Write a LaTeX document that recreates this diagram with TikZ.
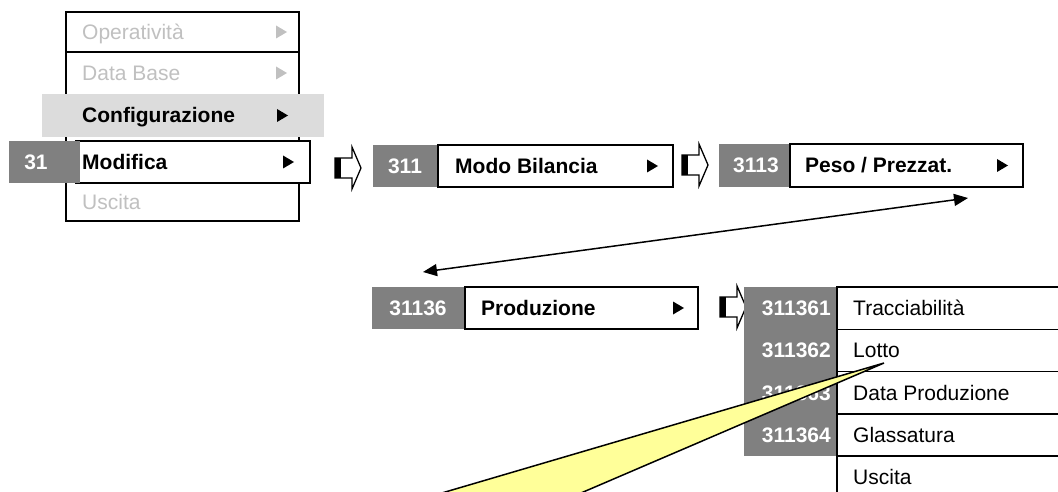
\documentclass[tikz,border=0pt]{standalone}
\usepackage{fontspec}
\setmainfont{Liberation Sans}
\usetikzlibrary{arrows.meta}
\definecolor{numgray}{RGB}{128,128,128}
\definecolor{cfggray}{RGB}{220,220,220}
\definecolor{disgray}{RGB}{192,192,192}
\definecolor{callyellow}{RGB}{255,255,153}
\newcommand{\mytri}[3]{\fill[#3] (#1,#2-6.5) -- (#1+11,#2) -- (#1,#2+6.5) -- cycle;}
\newcommand{\blkarrow}[2]{%
  \filldraw[fill=white,draw=black,line width=1.3pt,line join=miter]
    (#1,#2-10) -- (#1+17,#2-10) -- (#1+17,#2-21) -- (#1+26,#2) -- (#1+17,#2+21) -- (#1+17,#2+10) -- (#1,#2+10) -- cycle;
  \fill[black] (#1,#2-10) rectangle (#1+6,#2+10);}
\tikzset{
  wbox/.style={draw=black,fill=white,line width=1.5pt,inner sep=0pt,outer sep=0pt,anchor=north west},
  gbox/.style={fill=numgray,inner sep=0pt,outer sep=0pt,anchor=north west},
  lbl/.style={anchor=base west,inner sep=0pt,font=\fontsize{21}{25}\selectfont},
  blbl/.style={anchor=base west,inner sep=0pt,font=\fontsize{21}{25}\selectfont\bfseries},
  num/.style={anchor=base,inner sep=0pt,text=white,font=\fontsize{21}{25}\selectfont\bfseries},
  numr/.style={anchor=base east,inner sep=0pt,text=white,font=\fontsize{21}{25}\selectfont\bfseries},
}
\begin{document}
\begin{tikzpicture}[x=1pt,y=-1pt]
\useasboundingbox (0,0) rectangle (1058,492);
\clip (0,0) rectangle (1058,492);
% ---- left menu
\node[wbox,minimum width=233pt,minimum height=209pt] (menu) at (66,12) {};
\draw[line width=1.5pt] (66,52) -- (299,52);
\node[fill=cfggray,inner sep=0pt,outer sep=0pt,anchor=north west,minimum width=282pt,minimum height=43pt] (cfgband) at (42,94) {};
\node[wbox,minimum width=234pt,minimum height=42pt] (modbox) at (76,141) {};
\node[gbox,minimum width=71pt,minimum height=42pt] (n31) at (9,141) {};
\node[lbl,text=disgray] (t1) at (82,39.5) {Operatività};
\node[lbl,text=disgray] (t2) at (82,80.5) {Data Base};
\node[blbl] (t3) at (82,123) {Configurazione};
\node[blbl] (t4) at (82,169.5) {Modifica};
\node[lbl,text=disgray] (t5) at (82,209.5) {Uscita};
\node[num] (l31) at (36,169.5) {31};
\mytri{276}{32}{disgray}
\mytri{276}{73}{disgray}
\mytri{277}{115.5}{black}
\mytri{283}{162}{black}
% ---- arrow 1
\blkarrow{335}{168}
% ---- box 311
\node[gbox,minimum width=65pt,minimum height=42pt] (g311) at (373,145) {};
\node[wbox,minimum width=235pt,minimum height=42pt] (b311) at (438,145) {};
\node[num] (l311) at (405,173.5) {311};
\node[blbl] (t311) at (455,173.5) {Modo Bilancia};
\mytri{647}{166}{black}
% ---- arrow 2
\blkarrow{682}{165}
% ---- box 3113
\node[gbox,minimum width=71pt,minimum height=43pt] (g3113) at (719,144) {};
\node[wbox,minimum width=233pt,minimum height=43pt] (b3113) at (790,144) {};
\node[num] (l3113) at (756,173) {3113};
\node[blbl] (t3113) at (805,173) {Peso / Prezzat.};
\mytri{997}{165.5}{black}
% ---- double arrow
\coordinate (pa) at (968,198);
\coordinate (pb) at (423,272);
\draw[line width=1.5pt,{Triangle[length=14pt,width=12pt]}-{Triangle[length=14pt,width=12pt]}] (pb) -- (pa);
% ---- box 31136
\node[gbox,minimum width=93pt,minimum height=42pt] (g31136) at (372,287) {};
\node[wbox,minimum width=233pt,minimum height=42pt] (b31136) at (465,287) {};
\node[num] (l31136) at (418,315.5) {31136};
\node[blbl] (t31136) at (481,315.5) {Produzione};
\mytri{673}{308}{black}
% ---- arrow 3
\blkarrow{720}{307}
% ---- list
\node[gbox,minimum width=93pt,minimum height=169pt] (gcol) at (744,287) {};
\node[wbox,minimum width=230pt,minimum height=42.25pt] (r1) at (837,287) {};
\node[wbox,minimum width=230pt,minimum height=42.25pt] (r2) at (837,329.25) {};
\node[wbox,minimum width=230pt,minimum height=42.25pt] (r3) at (837,371.5) {};
\node[wbox,minimum width=230pt,minimum height=42.25pt] (r4) at (837,413.75) {};
\node[wbox,minimum width=230pt,minimum height=50pt] (r5) at (837,456) {};
\node[numr] (n1) at (831,315.5) {311361};
\node[numr] (n2) at (831,357.75) {311362};
\node[numr] (n3) at (831,400) {311363};
\node[numr] (n4) at (831,442.25) {311364};
\node[lbl] (s1) at (853,315.5) {Tracciabilità};
\node[lbl] (s2) at (853,357.75) {Lotto};
\node[lbl] (s3) at (853,400) {Data Produzione};
\node[lbl] (s4) at (853,442.25) {Glassatura};
\node[lbl] (s5) at (853,484.5) {Uscita};
% ---- callout
\coordinate (ctip) at (884,363);
\filldraw[fill=callyellow,draw=black,line width=1.5pt,line join=miter] (ctip) -- (350,520) -- (518,520) -- cycle;
\end{tikzpicture}
\end{document}
